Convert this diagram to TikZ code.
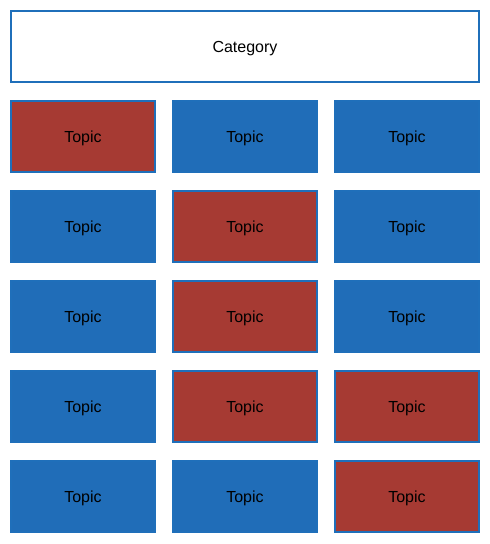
\documentclass[tikz,border=0pt]{standalone}
\usepackage{fontspec}
\setmainfont{Liberation Sans}
\definecolor{bord}{RGB}{31,111,186}
\definecolor{bfill}{RGB}{32,109,184}
\definecolor{rfill}{RGB}{166,58,51}
\begin{document}
\begin{tikzpicture}[x=1pt,y=-1pt,
  box/.style={draw=bord,line width=2pt,minimum width=144pt,minimum height=71pt,inner sep=0pt,text depth=0pt,font=\fontsize{16}{19}\selectfont,text=black},
  bt/.style={box,fill=bfill},
  rt/.style={box,fill=rfill}]
\useasboundingbox (0,0) rectangle (490,544);
\node[box,fill=white,minimum width=468pt] (cat) at (245,46.5) {Category};
\def\cA{83}\def\cB{245}\def\cC{407}
\node[rt] (t11) at (\cA,136.5) {Topic};
\node[bt] (t12) at (\cB,136.5) {Topic};
\node[bt] (t13) at (\cC,136.5) {Topic};
\node[bt] (t21) at (\cA,226.5) {Topic};
\node[rt] (t22) at (\cB,226.5) {Topic};
\node[bt] (t23) at (\cC,226.5) {Topic};
\node[bt] (t31) at (\cA,316.5) {Topic};
\node[rt] (t32) at (\cB,316.5) {Topic};
\node[bt] (t33) at (\cC,316.5) {Topic};
\node[bt] (t41) at (\cA,406.5) {Topic};
\node[rt] (t42) at (\cB,406.5) {Topic};
\node[rt] (t43) at (\cC,406.5) {Topic};
\node[bt] (t51) at (\cA,496.5) {Topic};
\node[bt] (t52) at (\cB,496.5) {Topic};
\node[rt] (t53) at (\cC,496.5) {Topic};
\end{tikzpicture}
\end{document}
